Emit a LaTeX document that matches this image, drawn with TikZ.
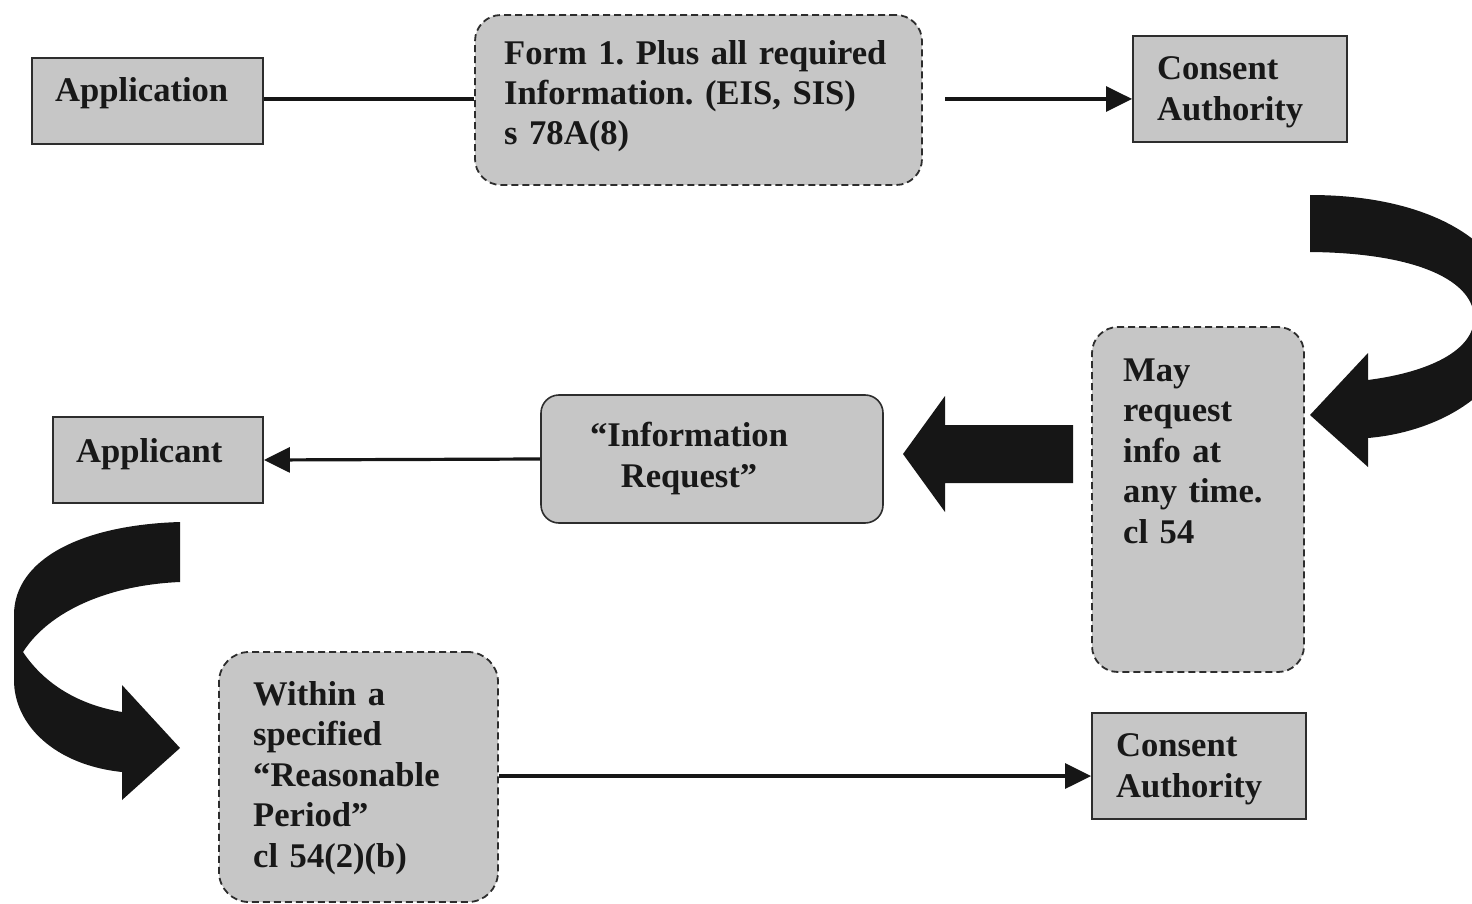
\documentclass[tikz,border=0pt]{standalone}
\usepackage{fontspec}
\setmainfont{Liberation Serif}
\usetikzlibrary{arrows.meta}

\definecolor{boxfill}{RGB}{198,198,198}
\definecolor{boxline}{RGB}{45,45,45}
\definecolor{ink}{RGB}{24,24,24}
\definecolor{arrowfill}{RGB}{22,22,22}

\newcommand{\lblfont}{\fontsize{34.6}{40.5}\selectfont\bfseries\frenchspacing}

\tikzset{
  rectbox/.style={draw=boxline, line width=1.8pt, fill=boxfill, inner sep=0pt},
  dashbox/.style={draw=boxline, line width=1.8pt, dash pattern=on 7pt off 4pt,
                  fill=boxfill, inner sep=0pt},
  roundbox/.style={draw=boxline, line width=1.6pt, fill=boxfill, inner sep=0pt,
                   rounded corners=18pt},
  lbl/.style={font=\lblfont, text=ink, inner sep=0pt, anchor=base west,
              text width=400pt, align=left},
  conn/.style={draw=arrowfill, line width=3.2pt},
  connarrow/.style={conn, -{Triangle[length=26pt,width=25pt]}},
}

\begin{document}
\begin{tikzpicture}[x=1pt,y=-1pt]
  \useasboundingbox (0,0) rectangle (1472,904);

  % boxes
  \node[rectbox, minimum width=231, minimum height=86] (app) at (147.5,101) {};
  \node[dashbox, rounded corners=26pt, minimum width=447, minimum height=170] (form) at (698.5,100) {};
  \node[rectbox, minimum width=214, minimum height=106] (ca1) at (1240,89) {};
  \node[dashbox, rounded corners=26pt, minimum width=212, minimum height=345] (may) at (1198,499.5) {};
  \node[roundbox, minimum width=342, minimum height=128] (info) at (712,459) {};
  \node[rectbox, minimum width=210, minimum height=86] (applicant) at (158,460) {};
  \node[dashbox, rounded corners=30pt, minimum width=279, minimum height=250] (within) at (358.5,777) {};
  \node[rectbox, minimum width=214, minimum height=106] (ca2) at (1199,766) {};

  % labels
  \node[lbl] (t-app) at (55,102) {Application};
  \node[lbl, font=\fontsize{34.6}{40}\selectfont\bfseries\frenchspacing] (t-form) at (504,65)
    {Form 1. Plus all required\\Information. (EIS, SIS)\\s 78A(8)};
  \node[lbl, font=\fontsize{34.6}{41}\selectfont\bfseries] (t-ca1) at (1157,80) {Consent\\Authority};
  \node[lbl] (t-may) at (1123,381) {May\\request\\info at\\any time.\\cl 54};
  \node[lbl, anchor=base, text width=330pt, align=center,
        font=\fontsize{34.6}{41}\selectfont\bfseries] (t-info) at (689,446)
    {“Information\\Request”};
  \node[lbl] (t-applicant) at (76,462) {Applicant};
  \node[lbl] (t-within) at (253,705)
    {Within a\\specified\\“Reasonable\\Period”\\cl 54(2)(b)};
  \node[lbl, font=\fontsize{34.6}{41}\selectfont\bfseries] (t-ca2) at (1116,756) {Consent\\Authority};

  % connectors
  \coordinate (fstart) at (945,99);
  \draw[conn] (app.east |- 0,99) -- (form.west |- 0,99);
  \draw[connarrow] (fstart) -- (fstart -| ca1.west);
  \draw[connarrow] (info.west) -- (applicant.east);
  \coordinate (wstart) at (within.east |- 0,776);
  \draw[connarrow] (wstart) -- (wstart -| ca2.west);

  % block arrow from the request box to the information request
  \fill[arrowfill] (1073,425) -- (945,425) -- (945,396) -- (903,454)
    -- (945,512) -- (945,483) -- (1073,483) -- cycle;

  % curved arrow on the right, running off the page edge
  \begin{scope}
    \clip (0,0) rectangle (1472,904);
    \fill[arrowfill] (1310,195) .. controls (1440,195) and (1515,250) .. (1515,318)
      .. controls (1515,390) and (1440,432) .. (1368,438)
      -- (1368,467) -- (1310,415) -- (1368,353) -- (1368,380)
      .. controls (1430,372) and (1474,350) .. (1474,318)
      .. controls (1474,282) and (1420,253) .. (1310,252) -- cycle;
  \end{scope}

  % curved arrow on the left
  \fill[arrowfill] (180,522) .. controls (80,525) and (14,560) .. (14,615)
    -- (14,680) .. controls (14,725) and (55,765) .. (122,772)
    -- (122,800) -- (180,748) -- (122,685) -- (122,712)
    .. controls (80,705) and (45,685) .. (23,652)
    .. controls (50,610) and (110,585) .. (180,582) -- cycle;
\end{tikzpicture}
\end{document}
